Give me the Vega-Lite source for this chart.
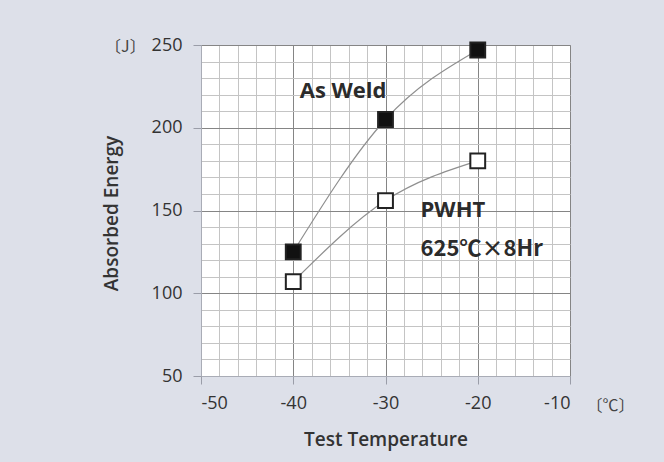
{
  "$schema": "https://vega.github.io/schema/vega-lite/v6.json",
  "width": 369,
  "height": 331,
  "autosize": {"type": "none"},
  "padding": {"left": 201, "top": 45, "right": 94, "bottom": 86},
  "background": "#dde0e9",
  "config": {
    "view": {"fill": "white", "stroke": "#a9acb6", "strokeWidth": 1},
    "font": "Open Sans"
  },
  "datasets": {
    "series": [
      {"temp": -40, "energy": 125, "condition": "As Weld"},
      {"temp": -30, "energy": 205, "condition": "As Weld"},
      {"temp": -20, "energy": 247, "condition": "As Weld"},
      {"temp": -40, "energy": 107, "condition": "PWHT"},
      {"temp": -30, "energy": 156, "condition": "PWHT"},
      {"temp": -20, "energy": 180, "condition": "PWHT"}
    ],
    "labels": [
      {"temp": -39.3, "energy": 222, "text": "As Weld"},
      {"temp": -26.2, "energy": 150.5, "text": "PWHT"}
    ],
    "labels2": [
      {"temp": -26.2, "energy": 126.5, "text": "625℃×8Hr"}
    ],
    "units": [
      {"temp": -58.2, "energy": 249, "text": "〔J〕"},
      {"temp": -5.6, "energy": 32, "text": "〔℃〕"}
    ]
  },
  "encoding": {
    "x": {
      "field": "temp",
      "type": "quantitative",
      "scale": {"domain": [-50, -10], "nice": false, "zero": false},
      "axis": {
        "title": "Test Temperature",
        "titleFontSize": 19,
        "titleFontWeight": 600,
        "titleColor": "#333333",
        "titleY": 63,
        "titleBaseline": "middle",
        "values": [-50, -48, -46, -44, -42, -40, -38, -36, -34, -32, -30, -28, -26, -24, -22, -20, -18, -16, -14, -12, -10],
        "labelExpr": "datum.value % 10 === 0 ? toString(datum.value) : ''",
        "labelFontSize": 18,
        "labelColor": "#333333",
        "labelPadding": 10,
        "tickSize": 8,
        "tickColor": "#9a9da8",
        "tickOpacity": {"condition": {"test": "datum.value % 10 === 0", "value": 1}, "value": 0},
        "domainColor": "#a9acb6",
        "grid": true,
        "gridColor": {"condition": {"test": "datum.value % 10 === 0", "value": "#858585"}, "value": "#c4c4c4"},
        "gridWidth": 1,
        "gridOpacity": 1
      }
    },
    "y": {
      "field": "energy",
      "type": "quantitative",
      "scale": {"domain": [50, 250], "nice": false, "zero": false},
      "axis": {
        "title": "Absorbed Energy",
        "titleFontSize": 19,
        "titleFontWeight": 600,
        "titleColor": "#333333",
        "titleX": -80,
        "titleY": 168,
        "values": [50, 60, 70, 80, 90, 100, 110, 120, 130, 140, 150, 160, 170, 180, 190, 200, 210, 220, 230, 240, 250],
        "labelExpr": "datum.value % 50 === 0 ? toString(datum.value) : ''",
        "labelFontSize": 18,
        "labelColor": "#333333",
        "labelPadding": 11,
        "tickSize": 8,
        "tickColor": "#9a9da8",
        "tickOpacity": {"condition": {"test": "datum.value % 50 === 0", "value": 1}, "value": 0},
        "domainColor": "#a9acb6",
        "grid": true,
        "gridColor": {"condition": {"test": "datum.value % 50 === 0", "value": "#858585"}, "value": "#c4c4c4"},
        "gridWidth": 1,
        "gridOpacity": 1
      }
    }
  },
  "layer": [
    {
      "data": {"name": "series"},
      "mark": {"type": "line", "interpolate": "monotone", "color": "#8f8f8f", "strokeWidth": 1.2},
      "encoding": {"detail": {"field": "condition"}}
    },
    {
      "data": {"name": "series"},
      "mark": {"type": "point", "shape": "square", "size": 220, "strokeWidth": 2, "opacity": 1},
      "encoding": {
        "fill": {
          "field": "condition",
          "type": "nominal",
          "scale": {"domain": ["As Weld", "PWHT"], "range": ["#111111", "#ffffff"]},
          "legend": null
        },
        "stroke": {"value": "#222222"}
      }
    },
    {
      "data": {"name": "labels"},
      "mark": {"type": "text", "align": "left", "baseline": "middle", "fontSize": 22, "fontWeight": "bold", "color": "#2b2b2b"},
      "encoding": {"text": {"field": "text"}}
    },
    {
      "data": {"name": "labels2"},
      "mark": {"type": "text", "align": "left", "baseline": "middle", "fontSize": 22, "fontWeight": "bold", "color": "#2b2b2b", "font": "Noto Sans CJK JP"},
      "encoding": {"text": {"field": "text"}}
    },
    {
      "data": {"name": "units"},
      "mark": {"type": "text", "align": "center", "baseline": "middle", "fontSize": 16, "color": "#444444", "font": "Noto Sans CJK JP"},
      "encoding": {"text": {"field": "text"}}
    }
  ]
}
